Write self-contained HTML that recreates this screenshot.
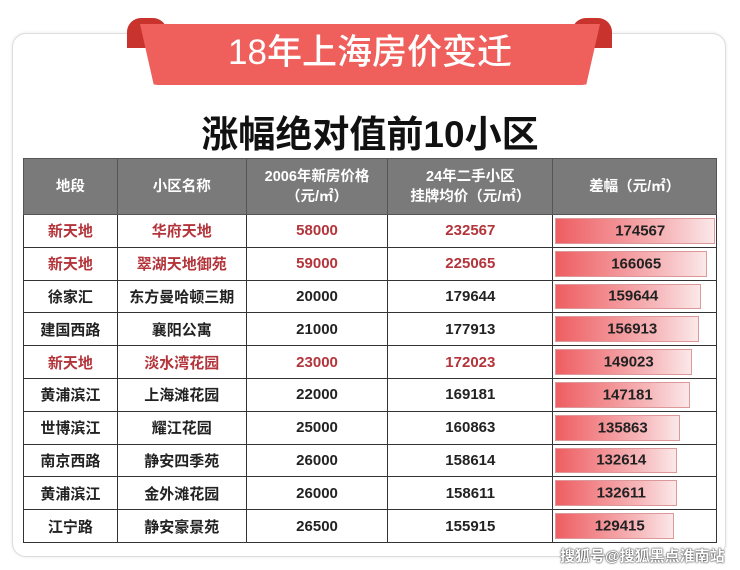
<!DOCTYPE html>
<html><head><meta charset="utf-8"><style>
body{margin:0;width:740px;height:570px;background:#fff;position:relative;overflow:hidden;font-family:"Liberation Sans","Noto Sans CJK SC",sans-serif}
.card{position:absolute;left:12px;top:33px;width:712px;height:522px;border:1px solid #ddd;border-radius:14px;background:#fff;box-shadow:0 0 3px #e5e5e5}
.ear{position:absolute;top:18px;width:40px;height:30px;background:#c8332e;border-radius:14px 14px 0 0}
.ribbon{position:absolute;left:140px;top:24px;width:460px;height:61px;background:#ef5f5c;clip-path:polygon(0 0,100% 0,97% 100%,3% 100%);border-radius:0 0 18px 18px;color:#fff;font-size:35px;text-align:center;line-height:58px;font-weight:500}
h1{position:absolute;left:0;width:740px;top:104px;margin:0;text-align:center;font-size:37px;font-weight:bold;color:#111}
table{position:absolute;left:23px;top:158px;border-collapse:collapse;width:694px}
td,th{border:1.5px solid #333;text-align:center;font-weight:bold;font-size:15px;padding:0}
th{background:#7a7a7a;color:#fff;height:55px;font-size:14.5px;line-height:20px;border-color:#555}
td{height:31.8px;color:#222}
tr.r td{color:#b3343a}
td.b{position:relative;text-align:left}
.bar{position:absolute;left:2px;top:3px;bottom:3px;background:linear-gradient(90deg,#ee5e62,#f6b8bb 70%,#fbe8e9);border:1px solid #d99;box-sizing:border-box}
.bar span{position:absolute;left:0;right:0;text-align:center;top:50%;transform:translateY(-50%);color:#222;padding-left:10px}
.wm{position:absolute;left:560px;top:545px;color:#fff;font-size:15px;font-weight:bold;text-shadow:0 0 2px #444,0 0 1px #000}
</style></head><body>
<div class="card"></div>
<div class="ear" style="left:127px"></div>
<div class="ear" style="left:572px"></div>
<div class="ribbon">18年上海房价变迁</div>
<h1>涨幅绝对值前10小区</h1>
<table>
<colgroup><col style="width:94px"><col style="width:129px"><col style="width:142px"><col style="width:165px"><col style="width:164px"></colgroup>
<tr><th>地段</th><th>小区名称</th><th>2006年新房价格<br>（元/㎡）</th><th>24年二手小区<br>挂牌均价（元/㎡）</th><th>差幅（元/㎡）</th></tr>
<tr class="r"><td>新天地</td><td>华府天地</td><td>58000</td><td>232567</td><td class="b"><div class="bar" style="width:160px"><span>174567</span></div></td></tr>
<tr class="r"><td>新天地</td><td>翠湖天地御苑</td><td>59000</td><td>225065</td><td class="b"><div class="bar" style="width:152px"><span>166065</span></div></td></tr>
<tr><td>徐家汇</td><td>东方曼哈顿三期</td><td>20000</td><td>179644</td><td class="b"><div class="bar" style="width:146px"><span>159644</span></div></td></tr>
<tr><td>建国西路</td><td>襄阳公寓</td><td>21000</td><td>177913</td><td class="b"><div class="bar" style="width:144px"><span>156913</span></div></td></tr>
<tr class="r"><td>新天地</td><td>淡水湾花园</td><td>23000</td><td>172023</td><td class="b"><div class="bar" style="width:137px"><span>149023</span></div></td></tr>
<tr><td>黄浦滨江</td><td>上海滩花园</td><td>22000</td><td>169181</td><td class="b"><div class="bar" style="width:135px"><span>147181</span></div></td></tr>
<tr><td>世博滨江</td><td>耀江花园</td><td>25000</td><td>160863</td><td class="b"><div class="bar" style="width:125px"><span>135863</span></div></td></tr>
<tr><td>南京西路</td><td>静安四季苑</td><td>26000</td><td>158614</td><td class="b"><div class="bar" style="width:122px"><span>132614</span></div></td></tr>
<tr><td>黄浦滨江</td><td>金外滩花园</td><td>26000</td><td>158611</td><td class="b"><div class="bar" style="width:122px"><span>132611</span></div></td></tr>
<tr><td>江宁路</td><td>静安豪景苑</td><td>26500</td><td>155915</td><td class="b"><div class="bar" style="width:119px"><span>129415</span></div></td></tr>
</table>
<div class="wm">搜狐号@搜狐黑点淮南站</div>
</body></html>
